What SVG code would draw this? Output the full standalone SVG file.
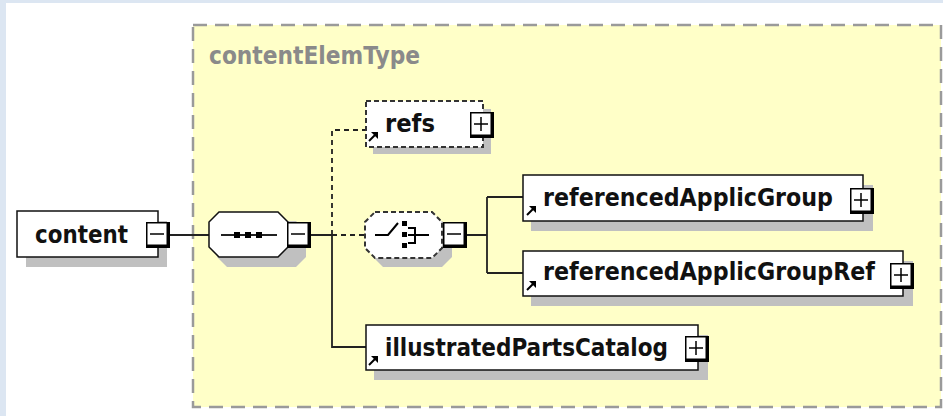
<svg xmlns="http://www.w3.org/2000/svg" width="943" height="416" viewBox="0 0 943 416">
<style>
.lbl{font-family:"DejaVu Sans",Verdana,sans-serif;font-weight:bold;font-size:25px;fill:#111}
.ttl{font-family:"DejaVu Sans",Verdana,sans-serif;font-weight:bold;font-size:24px;fill:#8a8a8a}
.box{fill:#fff;stroke:#111;stroke-width:1.5}
.dbox{fill:#fff;stroke:#333;stroke-width:2;stroke-dasharray:5 3}
.sh{fill:#c0c0c0}
.con{fill:none;stroke:#222;stroke-width:1.8}
.dcon{fill:none;stroke:#222;stroke-width:1.8;stroke-dasharray:5 4}
.btnb{fill:#000}
.btnw{fill:#fff}
.sign{stroke:#000;stroke-width:1.5;fill:none}
.ico{stroke:#000;stroke-width:2;fill:none}
</style>
<defs>
<g id="minus"><rect class="btnb" x="0" y="0" width="24" height="26"/><rect class="btnw" x="1.5" y="1.5" width="19" height="21"/><path class="sign" d="M4,12 H18"/></g>
<g id="plus"><rect class="btnb" x="0" y="0" width="24" height="26"/><rect class="btnw" x="1.5" y="1.5" width="19" height="21"/><path class="sign" d="M4,12 H18 M11,5 V19"/></g>
<g id="ref"><path class="ico" stroke-width="2.5" d="M1,10 L7,4"/><path d="M3,1 L10,1 L10,8 Z" fill="#000"/></g>
</defs>
<rect x="0" y="0" width="943" height="416" fill="#fff"/>
<rect x="0" y="0" width="6" height="416" fill="#dce6f2"/>
<rect x="0" y="0" width="943" height="3" fill="#dce6f2"/>
<g id="contentElemType">
<rect x="193" y="25" width="748" height="382" fill="#ffffc8" stroke="#9a9a9a" stroke-width="2.5" stroke-dasharray="14 8"/>
<text class="ttl" x="209" y="64" textLength="211" lengthAdjust="spacingAndGlyphs">contentElemType</text>
</g>
<g id="connectors">
<path class="con" d="M170,235 H210"/>
<path class="con" d="M311,235 H332 V347 H366"/>
<path class="dcon" d="M332,235 V130 H366"/>
<path class="dcon" d="M332,235 H366"/>
<path class="con" d="M467,235 H487 M487,197 V273 M487,197 H523 M487,273 H523"/>
</g>
<g id="content">
<rect class="sh" x="26" y="221" width="141" height="46"/>
<rect class="box" x="17" y="211" width="141" height="46"/>
<text class="lbl" x="35" y="243" textLength="93" lengthAdjust="spacingAndGlyphs">content</text>
<use href="#minus" x="146" y="222"/>
</g>
<g id="sequence">
<path class="sh" d="M227,221 H296 L306,231 V257 L296,267 H227 L217,257 V231 Z"/>
<path class="box" d="M219,212 H278 L288,222 V247 L278,257 H219 L209,247 V222 Z"/>
<path class="con" d="M221,235 H277"/>
<rect x="234" y="232" width="6" height="6" fill="#000"/>
<rect x="245" y="232" width="6" height="6" fill="#000"/>
<rect x="256" y="232" width="6" height="6" fill="#000"/>
<use href="#minus" x="287" y="222"/>
</g>
<g id="refs">
<rect class="sh" x="373" y="109" width="118" height="45"/>
<rect class="dbox" x="366" y="101" width="117" height="46"/>
<use href="#ref" x="368" y="131"/>
<text class="lbl" x="385" y="132" textLength="50" lengthAdjust="spacingAndGlyphs">refs</text>
<use href="#plus" x="470" y="112"/>
</g>
<g id="choice">
<path class="sh" d="M383,221 H442 L452,231 V257 L442,267 H383 L373,257 V231 Z"/>
<path class="dbox" d="M375,212 H432 L442,222 V248 L432,258 H375 L365,248 V222 Z"/>
<path class="ico" d="M375,235 H388 L398,223"/>
<rect x="402" y="221" width="5" height="5" fill="#000"/>
<rect x="402" y="232" width="5" height="5" fill="#000"/>
<rect x="402" y="243" width="5" height="5" fill="#000"/>
<path class="ico" d="M408,228 H415 V243 H408 M408,235 H429"/>
<use href="#minus" x="443" y="222"/>
</g>
<g id="referencedApplicGroup">
<rect class="sh" x="531" y="185" width="342" height="46"/>
<rect class="box" x="523" y="175" width="340" height="46"/>
<use href="#ref" x="526" y="205"/>
<text class="lbl" x="543" y="206" textLength="290" lengthAdjust="spacingAndGlyphs">referencedApplicGroup</text>
<use href="#plus" x="850" y="188"/>
</g>
<g id="referencedApplicGroupRef">
<rect class="sh" x="531" y="261" width="382" height="45"/>
<rect class="box" x="523" y="251" width="380" height="45"/>
<use href="#ref" x="526" y="280"/>
<text class="lbl" x="543" y="280" textLength="332" lengthAdjust="spacingAndGlyphs">referencedApplicGroupRef</text>
<use href="#plus" x="890" y="263"/>
</g>
<g id="illustratedPartsCatalog">
<rect class="sh" x="374" y="335" width="334" height="45"/>
<rect class="box" x="366" y="325" width="332" height="45"/>
<use href="#ref" x="368" y="355"/>
<text class="lbl" x="385" y="356" textLength="283" lengthAdjust="spacingAndGlyphs">illustratedPartsCatalog</text>
<use href="#plus" x="685" y="336"/>
</g>
</svg>
